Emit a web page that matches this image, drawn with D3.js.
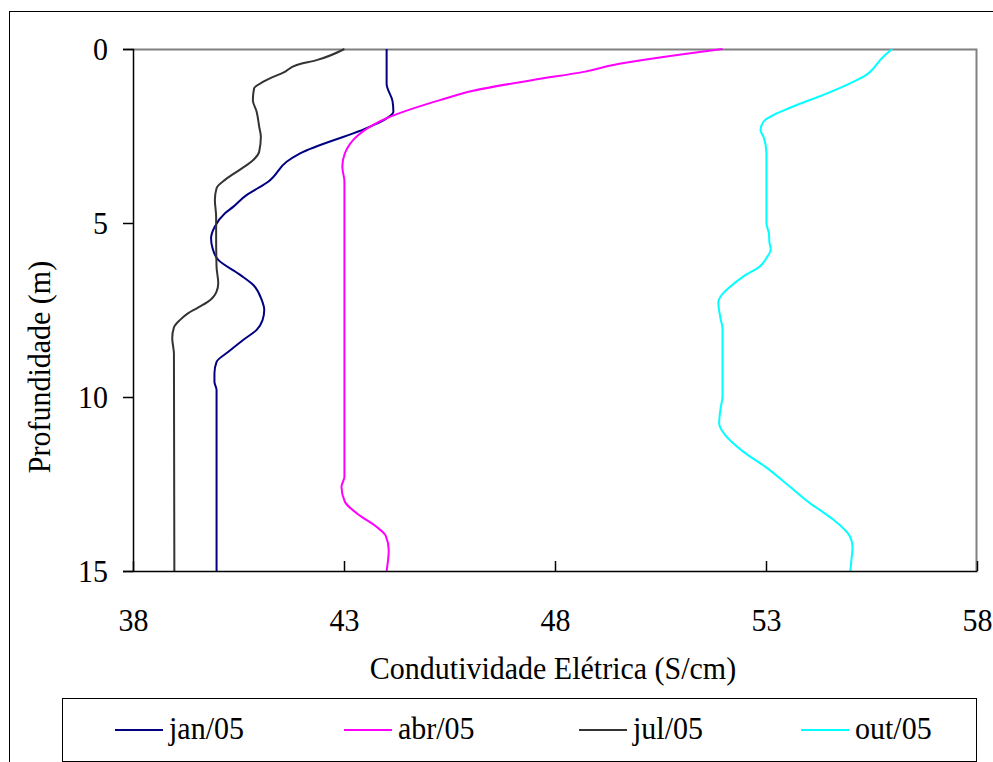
<!DOCTYPE html>
<html>
<head>
<meta charset="utf-8">
<script src="https://cdn.jsdelivr.net/npm/d3@7"></script>
<style>
  html, body { margin: 0; padding: 0; background: #fff; }
  svg { display: block; }
  text { font-family: "Liberation Serif", "Times New Roman", serif; fill: #000; }
</style>
</head>
<body>
<script>
// Electrical conductivity profiles (S/cm) by depth (m), four campaigns in 2005
const seriesNames = ["jan/05", "abr/05", "jul/05", "out/05"];
const seriesColors = ["#000080", "#ff00ff", "#333333", "#00ffff"];

const janDepth = [0, 1.0, 1.5, 1.8, 2.0, 2.23, 3.0, 3.24, 3.67, 3.81, 4.05, 4.2, 4.53, 4.72, 5.1, 5.44, 5.7, 6.06, 6.49, 6.78, 7.21, 7.5, 7.79, 8.07, 8.36, 8.7, 8.99, 9.32, 9.56, 9.8, 15];
const janValue = [44.01, 44.01, 44.15, 44.17, 44.0, 43.62, 41.96, 41.64, 41.33, 41.21, 40.89, 40.69, 40.38, 40.18, 39.94, 39.85, 39.88, 40.02, 40.54, 40.85, 41.05, 41.11, 41.07, 40.93, 40.61, 40.26, 39.98, 39.93, 39.93, 39.98, 39.98];

const abrDepth = [0, 0.46, 0.65, 0.89, 1.2, 1.47, 1.99, 2.23, 2.47, 3.0, 3.38, 3.81, 12.29, 12.58, 13.01, 13.34, 13.73, 13.99, 14.4, 15];
const abrValue = [51.97, 49.38, 48.71, 47.48, 46.06, 45.27, 44.01, 43.62, 43.34, 43.02, 42.96, 43.01, 43.01, 42.94, 43.02, 43.3, 43.77, 43.99, 44.06, 44.01];

const julDepth = [0, 0.32, 0.46, 0.68, 0.8, 0.94, 1.13, 1.47, 1.8, 2.23, 2.52, 2.95, 3.19, 3.43, 3.59, 3.76, 4.0, 4.34, 4.82, 5.39, 6.26, 6.73, 6.97, 7.26, 7.45, 7.59, 7.79, 8.0, 8.31, 8.76, 15];
const julValue = [43.01, 42.35, 41.88, 41.56, 41.32, 41.09, 40.87, 40.84, 40.93, 40.99, 41.03, 40.99, 40.85, 40.58, 40.38, 40.18, 39.98, 39.94, 39.97, 39.97, 39.98, 40.02, 39.98, 39.78, 39.51, 39.31, 39.11, 38.97, 38.93, 38.97, 38.98];

const outDepth = [0, 0.22, 0.78, 0.99, 1.32, 1.61, 1.75, 1.9, 2.09, 2.33, 2.52, 3.0, 5.01, 5.3, 5.54, 5.76, 6.01, 6.24, 6.54, 6.83, 7.07, 7.28, 7.79, 8.03, 9.99, 10.28, 10.76, 11.09, 11.57, 12.0, 12.58, 13.05, 13.25, 13.53, 14.01, 14.3, 14.73, 15];
const outValue = [55.99, 55.78, 55.33, 54.99, 54.36, 53.73, 53.45, 53.17, 52.94, 52.87, 52.94, 53.01, 53.01, 53.07, 53.08, 53.11, 53.01, 52.86, 52.46, 52.15, 51.95, 51.87, 51.93, 51.97, 51.97, 51.93, 51.89, 52.03, 52.46, 52.98, 53.57, 54.04, 54.28, 54.6, 54.99, 55.05, 55.02, 55.0];

const xTicks = [38, 43, 48, 53, 58];
const yTicks = [0, 5, 10, 15];
const xTitle = "Condutividade Elétrica (S/cm)";
const yTitle = "Profundidade (m)";

const seriesDepths = [janDepth, abrDepth, julDepth, outDepth];
const seriesValues = [janValue, abrValue, julValue, outValue];

const W = 993, H = 762;
const plot = { left: 133, right: 977, top: 49, bottom: 571 };
const FS = 30, STRETCH = 1.07;

const svg = d3.select("body").append("svg").attr("width", W).attr("height", H);

// outer chart frame (runs off the right and bottom edges)
svg.append("rect").attr("x", 9.5).attr("y", 11.5).attr("width", 1100).attr("height", 1100)
  .attr("fill", "none").attr("stroke", "#000").attr("stroke-width", 1);

const x = d3.scaleLinear().domain([38, 58]).range([plot.left, plot.right]);
const y = d3.scaleLinear().domain([0, 15]).range([plot.top, plot.bottom]);

function label(g, tx, ty, str, anchor, rotate) {
  const t = g.append("text")
    .attr("transform", `translate(${tx},${ty})${rotate ? " rotate(-90)" : ""} scale(1,${STRETCH})`)
    .attr("text-anchor", anchor)
    .style("font-size", FS + "px")
    .text(str);
  return t;
}

// gray frame on top and right
svg.append("path")
  .attr("d", `M${plot.left},${plot.top + 0.5}H${plot.right - 0.5}V${plot.bottom}`)
  .attr("fill", "none").attr("stroke", "#808080").attr("stroke-width", 2);

// series
const line = d3.line().curve(d3.curveMonotoneY);
seriesNames.forEach((name, i) => {
  const pts = seriesDepths[i].map((d, k) => [x(seriesValues[i][k]), y(d)]);
  svg.append("path")
    .attr("d", line(pts))
    .attr("fill", "none")
    .attr("stroke", seriesColors[i])
    .attr("stroke-width", 2)
    .attr("stroke-linejoin", "round");
});

// y axis: outward ticks
const yAxis = d3.axisLeft(y).tickValues(yTicks).tickSize(10).tickPadding(15).tickFormat(d3.format("d"));
const gy = svg.append("g").attr("transform", `translate(${plot.left},0)`).call(yAxis);
gy.select(".domain").attr("stroke", "#000").attr("stroke-width", 1.5);
gy.selectAll(".tick line").attr("stroke", "#000").attr("stroke-width", 1.5);
gy.selectAll(".tick text").remove();
gy.selectAll(".tick").each(function (d) {
  label(d3.select(this), -15 - 10, 10.5, String(d), "end", false);
});

// x axis: inward ticks
const xAxis = d3.axisBottom(x).tickValues(xTicks).tickSize(-10).tickSizeOuter(0).tickFormat(d3.format("d"));
const gx = svg.append("g").attr("transform", `translate(0,${plot.bottom})`).call(xAxis);
gx.select(".domain").attr("stroke", "#000").attr("stroke-width", 1.5);
gx.selectAll(".tick line").attr("stroke", "#000").attr("stroke-width", 1.5);
gx.selectAll(".tick text").remove();
gx.selectAll(".tick").each(function (d) {
  label(d3.select(this), 0, 60, String(d), "middle", false);
});

// axis titles
label(svg, 553, 679, xTitle, "middle", false);
label(svg, 50, 367, yTitle, "middle", true);

// legend
const legend = svg.append("g");
legend.append("rect").attr("x", 62.5).attr("y", 698.5).attr("width", 914).attr("height", 63)
  .attr("fill", "#fff").attr("stroke", "#000").attr("stroke-width", 1);
const legendX = [115, 344, 579, 801];
seriesNames.forEach((name, i) => {
  const g = legend.append("g").attr("transform", `translate(${legendX[i]},0)`);
  g.append("line").attr("x1", 0).attr("x2", 48).attr("y1", 730).attr("y2", 730)
    .attr("stroke", seriesColors[i]).attr("stroke-width", 2);
  label(g, 54, 739, name, "start", false);
});
</script>
</body>
</html>
